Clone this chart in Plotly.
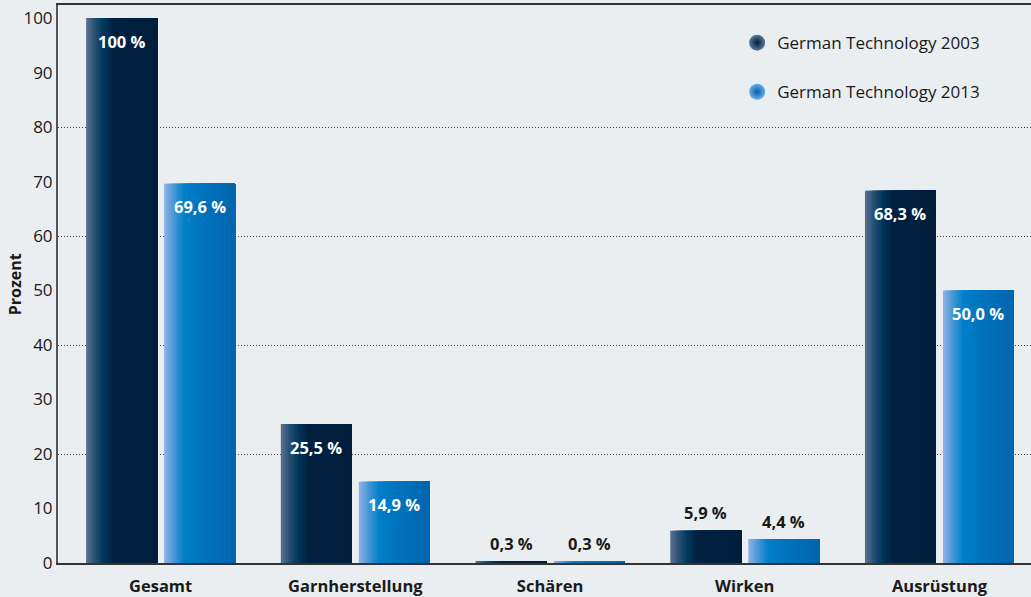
import numpy as np
import plotly.graph_objects as go

categories = ["Gesamt", "Garnherstellung", "Schären", "Wirken", "Ausrüstung"]
values_2003 = [100.0, 25.5, 0.3, 5.9, 68.3]
values_2013 = [69.6, 14.9, 0.3, 4.4, 50.0]
series_names = ["German Technology 2003", "German Technology 2013"]
y_ticks = [0, 10, 20, 30, 40, 50, 60, 70, 80, 90, 100]
grid_ticks = [20, 40, 60, 80]

FONT = "Open Sans"
BG = "#ebeef0"

x = np.arange(len(categories))

# gradient stops (fraction across bar width, rgb)
dark_stops = [(0.0, (92, 114, 146)), (0.12, (40, 80, 115)), (0.24, (0, 56, 94)),
              (0.38, (0, 33, 64)), (1.0, (0, 30, 60))]
blue_stops = [(0.0, (145, 180, 228)), (0.14, (70, 150, 215)), (0.28, (0, 128, 200)),
              (0.55, (0, 115, 188)), (1.0, (0, 102, 175))]


def interp(stops, t):
    for (t0, c0), (t1, c1) in zip(stops[:-1], stops[1:]):
        if t0 <= t <= t1:
            f = (t - t0) / (t1 - t0) if t1 > t0 else 0
            return tuple(int(round(a + (b - a) * f)) for a, b in zip(c0, c1))
    return stops[-1][1]


bar_w = 0.3646
gap_half = 0.018
fig = go.Figure()

n_slices = 30
for vals, stops, left in [(values_2003, dark_stops, -gap_half - bar_w),
                          (values_2013, blue_stops, gap_half)]:
    sw = bar_w / n_slices
    for i in range(n_slices):
        t = (i + 0.5) / n_slices
        r, g, b = interp(stops, t)
        # each slice runs from its start to the bar's right edge; later slices overlay
        fig.add_trace(go.Bar(
            x=x, y=vals, width=bar_w - i * sw, offset=left + i * sw,
            marker=dict(color=f"rgb({r},{g},{b})", line=dict(width=0)),
            showlegend=False, hoverinfo="skip", yaxis="y",
        ))

# legend entries (spheres)
fig.add_trace(go.Scatter(x=[None], y=[None], mode="markers", name=series_names[0],
                         legendgroup="a",
                         marker=dict(size=22, color="#5a7a9e",
                                     gradient=dict(type="radial", color="#001c38"))))
fig.add_trace(go.Scatter(x=[None], y=[None], mode="markers", name=series_names[1],
                         legendgroup="b",
                         marker=dict(size=22, color="#6aaee6",
                                     gradient=dict(type="radial", color="#0860a8"))))

# value labels
annotations = []
for vals, center in [(values_2003, -gap_half - bar_w / 2), (values_2013, gap_half + bar_w / 2)]:
    for xi, v in zip(x, vals):
        txt = "100 %" if v == 100 else f"{v:.1f}".replace(".", ",") + " %"
        inside = v > 10
        annotations.append(dict(
            x=xi + center, y=v, xref="x", yref="y", text=f"<b>{txt}</b>",
            showarrow=False, yanchor="middle",
            yshift=-23 if inside else 18,
            font=dict(family=FONT, size=16.5, color="white" if inside else "#1a1a1a"),
        ))

annotations.append(dict(
    x=-0.044, y=0.5, xref="paper", yref="paper", text="<b>Prozent</b>",
    xanchor="center", yanchor="middle",
    textangle=-90, showarrow=False, font=dict(family=FONT, size=16, color="#1a1a1a"),
))

fig.update_layout(
    width=1031, height=597,
    margin=dict(l=58, r=0, t=5, b=34),
    paper_bgcolor=BG, plot_bgcolor=BG,
    barmode="overlay",
    font=dict(family=FONT, color="#1a1a1a"),
    xaxis=dict(
        tickmode="array", tickvals=x, ticktext=[f"<b>{c}</b>" for c in categories],
        range=[-0.527, 4.47], showgrid=False, zeroline=False, automargin=False,
        showline=True, linecolor="#333333", linewidth=1.5, mirror=True,
        tickfont=dict(family=FONT, size=16.5, color="#1a1a1a"), ticks="",
        ticklabelstandoff=7,
    ),
    yaxis=dict(
        range=[0, 102.4], tickmode="array", tickvals=y_ticks, automargin=False,
        showgrid=False, zeroline=False, showline=True, linecolor="#555555", linewidth=2,
        tickfont=dict(family=FONT, size=17, color="#1a1a1a"), ticks="",
    ),
    yaxis2=dict(
        range=[0, 102.4], overlaying="y", tickmode="array", tickvals=grid_ticks,
        showticklabels=False, showgrid=True, gridcolor="#444444", griddash="1px,2px",
        gridwidth=1, zeroline=False, layer="below traces", automargin=False,
    ),
    legend=dict(
        x=0.698, y=0.964, xanchor="left", yanchor="top",
        bgcolor="rgba(0,0,0,0)", font=dict(family=FONT, size=17, color="#1a1a1a"),
        tracegroupgap=24, itemsizing="trace",
    ),
    annotations=annotations,
    showlegend=True,
)

# an invisible trace to activate yaxis2 gridlines
fig.add_trace(go.Scatter(x=[None], y=[None], yaxis="y2", showlegend=False, hoverinfo="skip"))

fig.write_html(
    "out.html",
    config={"displayModeBar": False},
    post_script="document.body.style.margin='0';document.body.style.background='%s';" % BG,
)
